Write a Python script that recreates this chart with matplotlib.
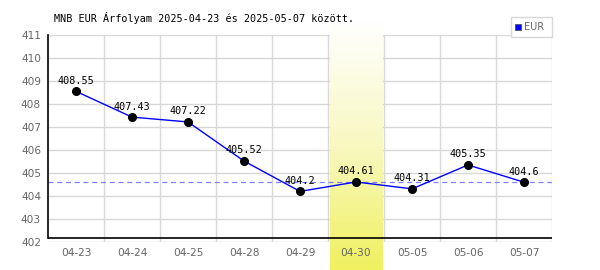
import matplotlib.pyplot as plt
import numpy as np
from matplotlib.colors import LinearSegmentedColormap
from matplotlib.patches import Rectangle

# Data
dates = ["04-23", "04-24", "04-25", "04-28", "04-29", "04-30", "05-05", "05-06", "05-07"]
rates = [408.55, 407.43, 407.22, 405.52, 404.2, 404.61, 404.31, 405.35, 404.6]
value_labels = ["408.55", "407.43", "407.22", "405.52", "404.2", "404.61", "404.31", "405.35", "404.6"]
highlight = "04-30"
title = "MNB EUR Árfolyam 2025-04-23 és 2025-05-07 között."
y_min, y_max = 402, 411

W, H = 600, 270
fig = plt.figure(figsize=(W / 100, H / 100), dpi=100)
ax = fig.add_axes([48 / W, 1 - 242 / H, (552 - 48) / W, (242 - 35) / H])
ax.set_facecolor("none")

x = np.arange(len(dates))
px_per_unit = (242 - 35) / (y_max - y_min)

# highlighted day: white-to-yellow gradient band, running to the figure bottom
hi = dates.index(highlight)
grad = np.linspace(0, 1, 256).reshape(-1, 1)
cmap = LinearSegmentedColormap.from_list("hl", ["#ffffff", "#f8f8c0", "#f0f060"])
band_bottom = y_min - (H - 242) / px_per_unit
band_top = y_max + (35 - 22) / px_per_unit
ax.imshow(grad, cmap=cmap, aspect="auto", origin="upper",
          extent=(hi - 0.47, hi + 0.47, band_bottom, band_top),
          clip_on=False, zorder=1)

# grid
for v in range(y_min, y_max + 1):
    ax.axhline(v, color="#d8d8d8", lw=1, zorder=0.5)
for b in np.arange(0.5, len(dates), 1.0):
    ax.axvline(b, color="#d8d8d8", lw=1, zorder=0.5)

# reference line at last value
ax.axhline(rates[-1], color="#8080ff", lw=0.9, ls=(0, (4, 3)), zorder=2)

ax.plot(x, rates, color="#0000ff", lw=1, zorder=3)
ax.plot(x, rates, "o", color="black", ms=5.5, zorder=4)
for xi, v, lbl in zip(x, rates, value_labels):
    ax.annotate(lbl, (xi, v), xytext=(0, 4), textcoords="offset points",
                ha="center", va="bottom", fontsize=7.3,
                family="DejaVu Sans Mono", color="black", zorder=5)

ax.set_xlim(-0.5, len(dates) - 0.5)
ax.set_ylim(y_min, y_max)
ax.set_xticks(x)
ax.set_xticklabels(dates)
ax.set_yticks(range(y_min, y_max + 1))
ax.tick_params(length=0, labelsize=7.6, colors="#666666", pad=4)
ax.tick_params(axis="y", pad=5)
for s in ["top", "right", "bottom"]:
    ax.spines[s].set_visible(False)
axis_y = y_min + 4 / px_per_unit
ax.spines["left"].set_bounds(axis_y, y_max)
ax.spines["left"].set_linewidth(1.2)
ax.axhline(axis_y, color="black", lw=1.2, zorder=2)

fig.text(54 / W, 1 - 18 / H, title, family="DejaVu Sans Mono", fontsize=7.3,
         ha="left", va="center", color="black")

# legend box
fig.patches.append(Rectangle((511 / W, 1 - 37 / H), 41 / W, 20 / H,
                             transform=fig.transFigure, facecolor="white",
                             edgecolor="#d8d8d8", lw=1))
fig.patches.append(Rectangle((515 / W, 1 - 30 / H), 6 / W, 6 / H,
                             transform=fig.transFigure, facecolor="#0000ff",
                             edgecolor="#555555", lw=0.6))
fig.text(524 / W, 1 - 27.5 / H, "EUR", fontsize=7, color="#666666",
         ha="left", va="center")

fig.savefig("out.png", dpi=100)
